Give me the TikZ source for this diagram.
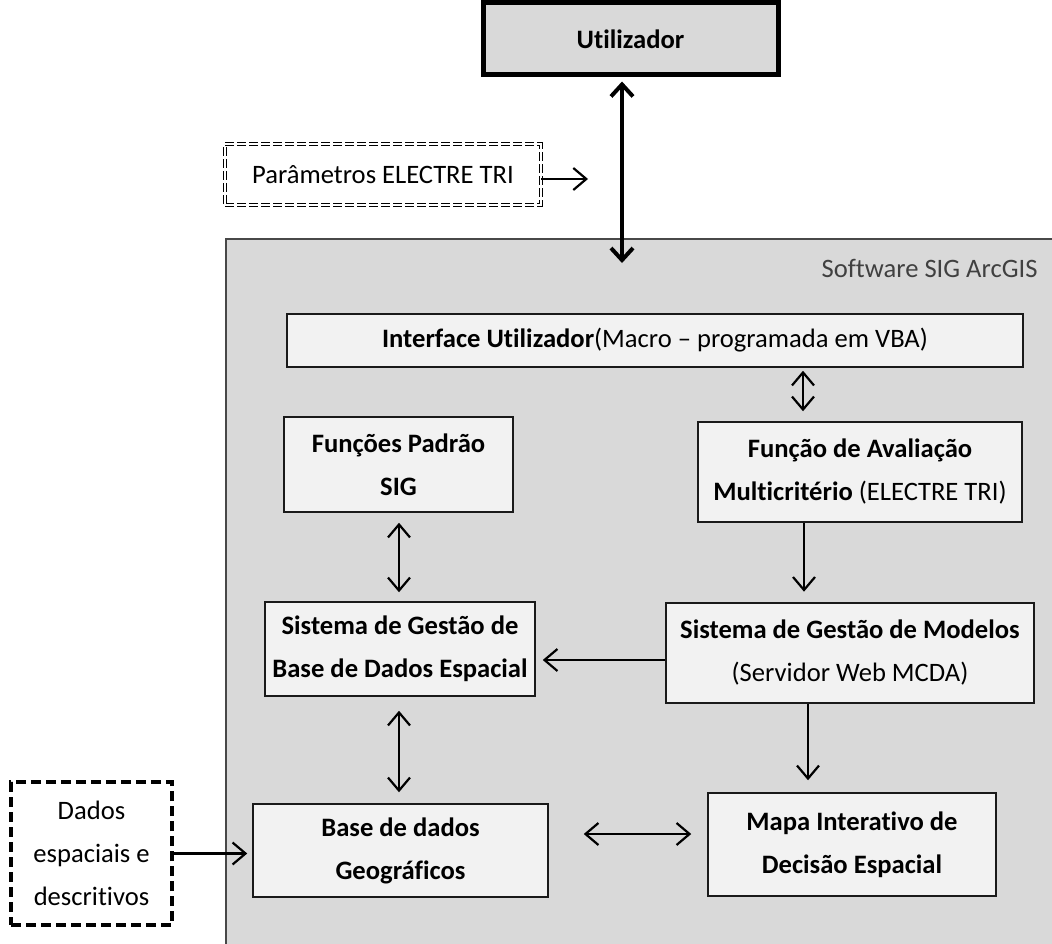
\documentclass[tikz,border=0pt]{standalone}
\usepackage{fontspec}
\setmainfont{Carlito}[Ligatures=NoCommon]
\usetikzlibrary{arrows.meta}
\definecolor{panel}{HTML}{D9D9D9}
\definecolor{boxfill}{HTML}{F2F2F2}
\definecolor{edge}{HTML}{1A1A1A}
\definecolor{labelgrey}{HTML}{404040}
\tikzset{
  txt/.style={font=\fontsize{26.6}{43}\selectfont, align=center, text=black},
  plainbox/.style={txt, draw=edge, line width=1.5pt, fill=boxfill, inner sep=0pt},
  userbox/.style={txt, draw=black, line width=5pt, fill=panel, inner sep=0pt},
  modelbox/.style={plainbox, line width=2.6pt},
  parbox/.style={txt, draw=black, line width=0.8pt, double=white, double distance=2.4pt,
    dash pattern=on 9pt off 3pt, fill=white, inner sep=0pt},
  databox/.style={txt, draw=black, line width=4pt, dash pattern=on 10pt off 5pt,
    fill=white, inner sep=0pt},
  tip/.tip={Straight Barb[length=13pt,width=22pt]},
  arr/.style={line width=2.2pt, -tip},
  biarr/.style={line width=2.2pt, tip-tip},
  boldarr/.style={line width=4pt, {Straight Barb[length=12pt,width=22pt]}-{Straight Barb[length=12pt,width=22pt]}},
}
\begin{document}
\begin{tikzpicture}[x=1pt, y=-1pt]
\useasboundingbox (0,0) rectangle (1052,944);

% ArcGIS panel
\fill[panel] (226,239) rectangle (1060,950);
\draw[edge!80, line width=1.4pt] (226,950) -- (226,239) -- (1060,239);
\node[txt, text=labelgrey, anchor=east] (gislabel) at (1041,268) {Software SIG ArcGIS};

% outside the panel
\node[userbox, minimum width=295pt, minimum height=72pt] (util) at (630.5,39) {\textbf{Utilizador}};
\node[parbox, minimum width=316pt, minimum height=61pt] (par) at (383,174.5) {Parâmetros ELECTRE TRI};
\node[databox, minimum width=161pt, minimum height=143pt] (dados) at (91.5,853.5) {Dados\\espaciais e\\descritivos};

% inside the panel
\node[plainbox, minimum width=736pt, minimum height=53pt] (ifc) at (655,340.5)
  {\textbf{Interface Utilizador}(Macro – programada em VBA)};
\node[plainbox, minimum width=229pt, minimum height=95pt] (fps) at (398.5,464.5)
  {\textbf{Funções Padrão}\\\textbf{SIG}};
\node[plainbox, minimum width=324pt, minimum height=100pt] (fn) at (860,472)
  {\textbf{Função de Avaliação}\\\textbf{Multicritério} (ELECTRE TRI)};
\node[plainbox, minimum width=270pt, minimum height=94pt] (sgbd) at (400,649)
  {\textbf{Sistema de Gestão de}\\\textbf{Base de Dados Espacial}};
\node[modelbox, minimum width=368pt, minimum height=100pt] (sgm) at (850,653)
  {\textbf{Sistema de Gestão de Modelos}\\(Servidor Web MCDA)};
\node[plainbox, minimum width=288pt, minimum height=103pt] (mapa) at (852,844.5)
  {\textbf{Mapa Interativo de}\\\textbf{Decisão Espacial}};
\node[plainbox, minimum width=295pt, minimum height=93pt] (bdg) at (400.5,850.5)
  {\textbf{Base de dados}\\\textbf{Geográficos}};

% connector columns and free ends
\coordinate (c622) at (622,0);
\coordinate (c803) at (803,0);
\coordinate (c399) at (399,0);
\coordinate (c804) at (804,0);
\coordinate (c808) at (808,0);
\coordinate (utilend) at (622,263);
\coordinate (parend) at (588,179);

% connectors
\draw[boldarr, shorten <=4pt] (util.south -| c622) -- (utilend);
\draw[arr] (par.east |- parend) -- (parend);
\draw[biarr, shorten <=3pt, shorten >=10pt] (ifc.south -| c803) -- (fn.north -| c803);
\draw[biarr, shorten <=10pt, shorten >=9pt] (fps.south -| c399) -- (sgbd.north -| c399);
\draw[arr, shorten >=10pt] (fn.south -| c804) -- (sgm.north -| c804);
\draw[arr, shorten >=7pt] (sgm.west) ++(0,7) coordinate (sgmout) (sgmout) -- (sgbd.east |- sgmout);
\draw[arr, shorten >=12pt] (sgm.south -| c808) -- (mapa.north -| c808);
\draw[biarr, shorten <=14pt, shorten >=11pt] (sgbd.south -| c399) -- (bdg.north -| c399);
\draw[biarr, shorten <=35pt, shorten >=16pt] (bdg.east |- 0,834) -- (mapa.west |- 0,834);
\draw[arr, shorten >=5pt] (dados.east) -- (bdg.west |- dados.east);
\end{tikzpicture}
\end{document}
